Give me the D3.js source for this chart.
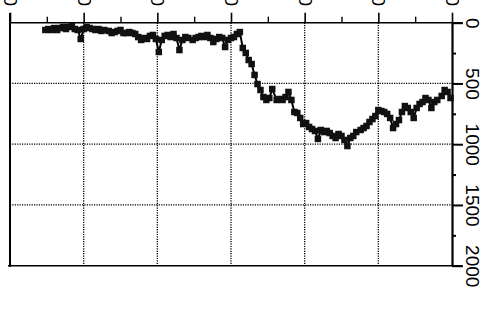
<!DOCTYPE html>
<html><head><meta charset="utf-8">
<script src="https://cdn.jsdelivr.net/npm/d3@7"></script>
<style>html,body{margin:0;padding:0;background:#fff;} svg{display:block;}</style>
</head><body>
<script>
// ---- data ----
const xTicks = [0, 50, 100, 150, 200, 250, 300];
const xMinor = [25, 75, 125, 175, 225, 275];
const yTicks = [0, 500, 1000, 1500, 2000];
const yMinor = [250, 750, 1250, 1750];
const xs = [24,26,28,30,32,34,36,38,40,42,44,46,48,50,52,54,56,58,60,62,64,
  67,69,71,73,75,77,79,81,83,85,87,89,91,93,95,97,99,101,103,105,107,109,111,113,115,117,119,121,
  124,126,128,130,132,134,136,138,140,142,144,146,148,150,152,154,156,158,160,162,164,166,168,170,172,174,176,178,
  181,183,185,187,189,191,193,195,197,199,201,203,205,207,209,211,213,215,217,219,221,223,225,227,229,231,233,235,
  238,240,242,244,246,248,250,252,254,256,258,260,262,264,266,268,270,272,274,276,278,280,282,284,286,288,290,
  293,295,297,299];
const ys = [60,52,60,44,60,44,35,52,35,27,
  52,60,134,52,35,44,52,60,52,68,
  60,68,85,77,68,60,85,85,77,85,
  93,118,142,126,134,109,101,134,241,142,
  109,101,118,93,126,225,142,118,126,142,
  126,118,109,118,101,126,159,134,118,126,
  200,142,126,118,93,77,208,249,307,340,
  430,505,554,612,636,620,546,636,628,636,
  612,570,636,735,743,784,834,826,858,875,
  891,957,883,900,891,908,932,949,916,932,
  965,1015,949,932,900,883,867,850,817,793,
  768,719,727,735,751,784,867,834,801,735,
  686,702,735,784,702,669,653,620,636,702,
  653,636,603,554,570,620];

// ---- chart ----
const W = 494, H = 326;
const svg = d3.select("body").append("svg").attr("width", W).attr("height", H)
  .style("font-family", "'Liberation Sans', Arial, sans-serif");

const x = d3.scaleLinear().domain([0, 300]).range([10, 452]);
const y = d3.scaleLinear().domain([0, 2000]).range([22.7, 265.7]);

// grid
const grid = svg.append("g").attr("stroke", "#000").attr("stroke-width", 1.3)
  .attr("stroke-dasharray", "1.2,1.2").attr("fill", "none");
grid.selectAll(".gv").data(xTicks.slice(1, -1)).join("line")
  .attr("x1", d => x(d)).attr("x2", d => x(d)).attr("y1", y(0)).attr("y2", y(2000));
grid.selectAll(".gh").data(yTicks.slice(1, -1)).join("line")
  .attr("x1", x(0)).attr("x2", x(300)).attr("y1", d => y(d)).attr("y2", d => y(d));

// frame: left and bottom
svg.append("line").attr("x1", x(0)).attr("x2", x(0)).attr("y1", 13).attr("y2", y(2000) + 1)
  .attr("stroke", "#000").attr("stroke-width", 2);
svg.append("line").attr("x1", 8).attr("x2", 462).attr("y1", y(2000)).attr("y2", y(2000))
  .attr("stroke", "#000").attr("stroke-width", 1.6);
svg.append("line").attr("x1", x(0)).attr("x2", 462).attr("y1", y(0)).attr("y2", y(0))
  .attr("stroke", "#000").attr("stroke-width", 1.6);

// top axis
const topAxis = svg.append("g").attr("transform", `translate(0,${y(0)})`)
  .call(d3.axisTop(x).tickValues(xTicks).tickSize(10).tickFormat(d3.format("d")));
topAxis.select(".domain").remove();
topAxis.selectAll(".tick line").attr("stroke-width", 1.6);
topAxis.selectAll(".tick text")
  .attr("x", 0).attr("y", 0).attr("dy", "0.35em")
  .attr("text-anchor", "end")
  .attr("transform", `translate(0,${6 - y(0)}) rotate(90)`)
  .attr("font-size", 19).attr("fill", "#000");
svg.append("g").attr("transform", `translate(0,${y(0)})`)
  .call(d3.axisTop(x).tickValues(xMinor).tickSize(6).tickFormat(""))
  .call(g => g.select(".domain").remove())
  .selectAll(".tick line").attr("stroke-width", 1.4);

// right axis
const rightAxis = svg.append("g").attr("transform", `translate(${x(300)},0)`)
  .call(d3.axisRight(y).tickValues(yTicks).tickSize(11).tickSizeOuter(0).tickFormat(d3.format("d")));
rightAxis.select(".domain").attr("stroke-width", 2.2);
rightAxis.selectAll(".tick line").attr("stroke-width", 2);
rightAxis.selectAll(".tick text")
  .attr("x", 0).attr("y", 0).attr("dy", "0.35em")
  .attr("text-anchor", "middle")
  .attr("transform", "translate(21,0) rotate(90)")
  .attr("font-size", 19).attr("fill", "#000");
svg.append("g").attr("transform", `translate(${x(300)},0)`)
  .call(d3.axisRight(y).tickValues(yMinor).tickSize(4).tickFormat(""))
  .call(g => g.select(".domain").remove())
  .selectAll(".tick line").attr("stroke-width", 2);

// series
const pts = xs.map((d, i) => [d, ys[i]]);
svg.append("path").datum(pts)
  .attr("fill", "none").attr("stroke", "#000").attr("stroke-width", 2)
  .attr("d", d3.line().x(d => x(d[0])).y(d => y(d[1])));
const s = 6.5;
svg.append("g").selectAll("rect").data(pts).join("rect")
  .attr("x", d => x(d[0]) - s / 2).attr("y", d => y(d[1]) - s / 2)
  .attr("width", s).attr("height", s).attr("fill", "#111");
</script>
</body></html>
